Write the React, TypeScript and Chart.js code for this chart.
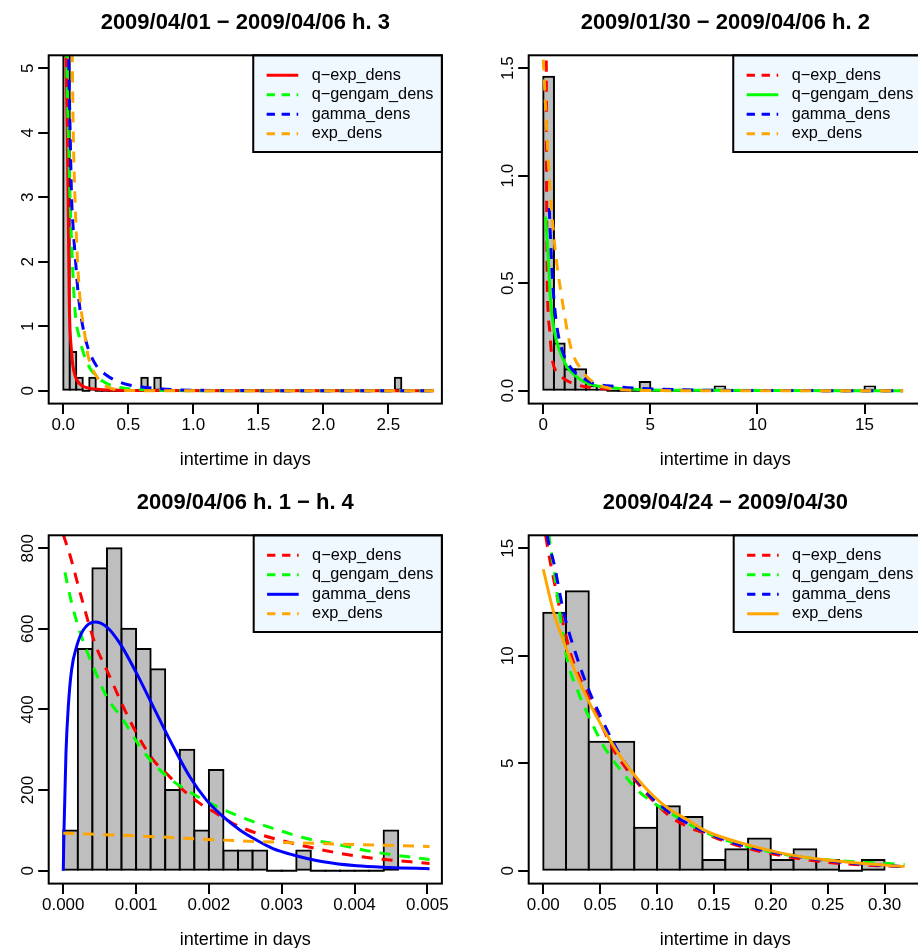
import React, { useEffect, useRef } from "react";
import { Chart, registerables } from "chart.js";

Chart.register(...registerables);

const FONT = "'Liberation Sans', Arial, Helvetica, sans-serif";
const RED = "#FF0000";
const GREEN = "#00FF00";
const BLUE = "#0000FF";
const ORANGE = "#FFA500";
const HIST_FILL = "#BEBEBE";
const LEGEND_BG = "#F0F8FF";
const DASH = [11, 9];
const LEGEND_DASH = [8.3, 6.7];
const X_LABEL = "intertime in days";

// ---------- Panel 1 ----------
const P1_TITLE = "2009/04/01 \u2212 2009/04/06 h. 3";
const P1_LEGEND = ["q\u2212exp_dens", "q\u2212gengam_dens", "gamma_dens", "exp_dens"];
const P1_SOLID = 0;
const P1_XLIM = [0, 2.8];
const P1_YLIM = [0, 5];
const P1_XTICKS = [0, 0.5, 1, 1.5, 2, 2.5];
const P1_XTICK_LABELS = ["0.0", "0.5", "1.0", "1.5", "2.0", "2.5"];
const P1_YTICKS = [0, 1, 2, 3, 4, 5];
const P1_YTICK_LABELS = ["0", "1", "2", "3", "4", "5"];
const P1_BREAK_START = 0;
const P1_BIN_WIDTH = 0.05;
const P1_DENSITY = [
  18.4, 0.6, 0.2, 0, 0.2, 0, 0, 0, 0, 0, 0, 0, 0.2, 0, 0.2,
  0, 0, 0, 0, 0, 0, 0, 0, 0, 0, 0, 0, 0, 0, 0, 0, 0, 0, 0, 0, 0,
  0, 0, 0, 0, 0, 0, 0, 0, 0, 0, 0, 0, 0, 0, 0, 0.2,
];
const P1_QEXP_X = [0.012, 0.021, 0.03, 0.037, 0.046, 0.051, 0.057, 0.064, 0.07, 0.077, 0.09, 0.103, 0.125, 0.154, 0.205, 0.282, 0.385, 0.5, 0.8, 1.5, 2.85];
const P1_QEXP_Y = [7.0, 5.2, 4.1, 3.0, 1.4, 1.0, 0.78, 0.6, 0.45, 0.35, 0.24, 0.17, 0.11, 0.065, 0.036, 0.02, 0.01, 0.005, 0.002, 0.0005, 0];
const P1_GENGAM_X = [0.015, 0.026, 0.039, 0.052, 0.07, 0.09, 0.128, 0.18, 0.244, 0.333, 0.436, 0.564, 0.75, 1.0, 2.85];
const P1_GENGAM_Y = [7.5, 5.2, 4.0, 3.0, 2.0, 1.25, 0.79, 0.45, 0.244, 0.115, 0.052, 0.02, 0.005, 0.001, 0];
const P1_GAMMA_X = [0.03, 0.04, 0.05, 0.064, 0.077, 0.095, 0.115, 0.141, 0.18, 0.244, 0.333, 0.46, 0.59, 0.74, 0.9, 1.2, 1.6, 2.85];
const P1_GAMMA_Y = [7.0, 5.3, 4.3, 3.0, 2.5, 2.0, 1.5, 1.1, 0.73, 0.42, 0.24, 0.114, 0.062, 0.03, 0.012, 0.003, 0.001, 0];
const P1_EXP_X = [0.06, 0.069, 0.077, 0.09, 0.11, 0.13, 0.16, 0.19, 0.22, 0.254, 0.3, 0.35, 0.404, 0.5, 0.7, 2.85];
const P1_EXP_Y = [6.5, 5.2, 4.0, 3.0, 2.0, 1.4, 0.95, 0.55, 0.36, 0.23, 0.11, 0.05, 0.018, 0.004, 0, 0];

// ---------- Panel 2 ----------
const P2_TITLE = "2009/01/30 \u2212 2009/04/06 h. 2";
const P2_LEGEND = ["q\u2212exp_dens", "q\u2212gengam_dens", "gamma_dens", "exp_dens"];
const P2_SOLID = 1;
const P2_XLIM = [0, 17];
const P2_YLIM = [0, 1.5];
const P2_XTICKS = [0, 5, 10, 15];
const P2_XTICK_LABELS = ["0", "5", "10", "15"];
const P2_YTICKS = [0, 0.5, 1, 1.5];
const P2_YTICK_LABELS = ["0.0", "0.5", "1.0", "1.5"];
const P2_BREAK_START = 0;
const P2_BIN_WIDTH = 0.5;
const P2_DENSITY = [
  1.46, 0.22, 0.1, 0.1, 0.02, 0.02, 0, 0, 0, 0.04, 0, 0, 0, 0, 0, 0,
  0.02, 0, 0, 0, 0, 0, 0, 0, 0, 0, 0, 0, 0, 0, 0.02,
];
const P2_QEXP_X = [0.13, 0.14, 0.15, 0.16, 0.18, 0.22, 0.3, 0.37, 0.45, 0.6, 0.96, 1.5, 2.05, 3.06, 5, 10, 16.8];
const P2_QEXP_Y = [2.0, 1.6, 1.2, 0.85, 0.55, 0.38, 0.28, 0.19, 0.13, 0.09, 0.056, 0.03, 0.017, 0.008, 0.003, 0.0008, 0];
const P2_GENGAM_X = [0.107, 0.22, 0.34, 0.51, 0.75, 1.06, 1.45, 2.07, 3.0, 4.4, 7, 16.8];
const P2_GENGAM_Y = [0.81, 0.64, 0.42, 0.28, 0.19, 0.12, 0.073, 0.034, 0.016, 0.006, 0.002, 0];
const P2_GAMMA_X = [0.28, 0.34, 0.43, 0.56, 0.7, 0.96, 1.38, 1.82, 2.29, 3.42, 5.2, 8, 16.8];
const P2_GAMMA_Y = [0.85, 0.7, 0.52, 0.36, 0.26, 0.166, 0.095, 0.06, 0.036, 0.019, 0.008, 0.002, 0];
const P2_EXP_X = [0, 0.27, 0.51, 0.9, 1.29, 1.76, 2.38, 3.0, 3.62, 5, 7, 16.8];
const P2_EXP_Y = [1.54, 1.01, 0.7, 0.41, 0.2, 0.1, 0.036, 0.014, 0.005, 0.001, 0, 0];

// ---------- Panel 3 ----------
const P3_TITLE = "2009/04/06 h. 1 \u2212 h. 4";
const P3_LEGEND = ["q\u2212exp_dens", "q_gengam_dens", "gamma_dens", "exp_dens"];
const P3_SOLID = 2;
const P3_XLIM = [0, 0.005];
const P3_YLIM = [0, 800];
const P3_XTICKS = [0, 0.001, 0.002, 0.003, 0.004, 0.005];
const P3_XTICK_LABELS = ["0.000", "0.001", "0.002", "0.003", "0.004", "0.005"];
const P3_YTICKS = [0, 200, 400, 600, 800];
const P3_YTICK_LABELS = ["0", "200", "400", "600", "800"];
const P3_BREAK_START = 0;
const P3_BIN_WIDTH = 0.0002;
const P3_DENSITY = [100, 550, 750, 800, 600, 550, 500, 200, 300, 100, 250, 50, 50, 50, 0, 0, 50, 0, 0, 0, 0, 0, 100];
const P3_QEXP_X = [0, 0.0000915, 0.000252, 0.000435, 0.00064, 0.000823, 0.001006, 0.001235, 0.001418, 0.001647, 0.001876, 0.002104, 0.002333, 0.002653, 0.002974, 0.00334, 0.0038, 0.00425, 0.00503];
const P3_QEXP_Y = [834, 783, 676, 564, 481, 407, 341, 275, 241, 200, 167, 142, 117, 93, 76, 60, 43, 31, 18];
const P3_GENGAM_X = [0.0000229, 0.000114, 0.000229, 0.000412, 0.000595, 0.000823, 0.001052, 0.001281, 0.00151, 0.001738, 0.001967, 0.002196, 0.002516, 0.00288, 0.00334, 0.0038, 0.00425, 0.00471, 0.00503];
const P3_GENGAM_Y = [740, 665, 592, 506, 432, 374, 308, 258, 222, 195, 172, 152, 128, 105, 80, 64, 47, 35, 28];
const P3_GAMMA_X = [0, 0.00001, 0.000037, 0.000069, 0.000114, 0.000183, 0.000275, 0.000435, 0.000595, 0.000778, 0.001006, 0.001235, 0.00151, 0.001738, 0.001967, 0.002196, 0.002425, 0.002653, 0.00288, 0.00316, 0.00357, 0.00403, 0.00448, 0.00503];
const P3_GAMMA_Y = [0, 100, 291, 407, 498, 556, 597, 617, 605, 564, 490, 407, 308, 233, 175, 134, 101, 76, 55, 39, 22, 12, 8, 5];
const P3_EXP_X = [0, 0.00105, 0.00243, 0.0038, 0.00503];
const P3_EXP_Y = [93, 86, 74, 66, 60];

// ---------- Panel 4 ----------
const P4_TITLE = "2009/04/24 \u2212 2009/04/30";
const P4_LEGEND = ["q\u2212exp_dens", "q_gengam_dens", "gamma_dens", "exp_dens"];
const P4_SOLID = 3;
const P4_XLIM = [0, 0.32];
const P4_YLIM = [0, 15];
const P4_XTICKS = [0, 0.05, 0.1, 0.15, 0.2, 0.25, 0.3];
const P4_XTICK_LABELS = ["0.00", "0.05", "0.10", "0.15", "0.20", "0.25", "0.30"];
const P4_YTICKS = [0, 5, 10, 15];
const P4_YTICK_LABELS = ["0", "5", "10", "15"];
const P4_BREAK_START = 0;
const P4_BIN_WIDTH = 0.02;
const P4_DENSITY = [12, 13, 6, 6, 2, 3, 2.5, 0.5, 1, 1.5, 0.5, 1, 0.5, 0, 0.5];
const P4_QEXP_X = [0, 0.002, 0.0094, 0.0167, 0.024, 0.033, 0.04, 0.0505, 0.062, 0.074, 0.0857, 0.0975, 0.112, 0.127, 0.1415, 0.156, 0.1855, 0.215, 0.244, 0.2736, 0.3176];
const P4_QEXP_Y = [16.5, 15.63, 13.5, 11.66, 10.1, 8.87, 8.1, 6.85, 5.6, 4.68, 3.9, 3.2, 2.5, 2.05, 1.74, 1.43, 0.96, 0.65, 0.42, 0.29, 0.19];
const P4_GENGAM_X = [0, 0.005, 0.0094, 0.0153, 0.0211, 0.03, 0.04, 0.0534, 0.068, 0.0828, 0.0975, 0.112, 0.127, 0.1415, 0.156, 0.1855, 0.215, 0.244, 0.2736, 0.3176];
const P4_GENGAM_Y = [18.5, 15.63, 14.0, 11.66, 9.8, 8.4, 7.17, 5.77, 4.68, 3.75, 3.13, 2.67, 2.2, 1.81, 1.5, 1.04, 0.73, 0.53, 0.42, 0.29];
const P4_GAMMA_X = [0, 0.0035, 0.0094, 0.018, 0.0285, 0.04, 0.0505, 0.062, 0.074, 0.0857, 0.0975, 0.112, 0.127, 0.156, 0.1855, 0.215, 0.244, 0.2736, 0.3176];
const P4_GAMMA_Y = [17.5, 15.63, 14.3, 12.0, 10.1, 8.4, 7.17, 5.92, 4.84, 3.99, 3.29, 2.67, 2.2, 1.5, 1.04, 0.73, 0.5, 0.34, 0.19];
const P4_EXP_X = [0, 0.0094, 0.0197, 0.03, 0.04, 0.0534, 0.068, 0.0813, 0.0975, 0.112, 0.127, 0.1415, 0.156, 0.1855, 0.215, 0.244, 0.2736, 0.3176];
const P4_EXP_Y = [14.02, 11.97, 10.42, 9.03, 7.86, 6.54, 5.3, 4.37, 3.44, 2.82, 2.36, 1.89, 1.58, 1.12, 0.76, 0.53, 0.37, 0.19];

const PANELS = [
  {
    title: P1_TITLE, legend: P1_LEGEND, solid: P1_SOLID, xlim: P1_XLIM, ylim: P1_YLIM,
    xTicks: P1_XTICKS, xTickLabels: P1_XTICK_LABELS, yTicks: P1_YTICKS, yTickLabels: P1_YTICK_LABELS,
    breakStart: P1_BREAK_START, binWidth: P1_BIN_WIDTH, density: P1_DENSITY,
    curves: [[P1_QEXP_X, P1_QEXP_Y], [P1_GENGAM_X, P1_GENGAM_Y], [P1_GAMMA_X, P1_GAMMA_Y], [P1_EXP_X, P1_EXP_Y]],
  },
  {
    title: P2_TITLE, legend: P2_LEGEND, solid: P2_SOLID, xlim: P2_XLIM, ylim: P2_YLIM,
    xTicks: P2_XTICKS, xTickLabels: P2_XTICK_LABELS, yTicks: P2_YTICKS, yTickLabels: P2_YTICK_LABELS,
    breakStart: P2_BREAK_START, binWidth: P2_BIN_WIDTH, density: P2_DENSITY,
    curves: [[P2_QEXP_X, P2_QEXP_Y], [P2_GENGAM_X, P2_GENGAM_Y], [P2_GAMMA_X, P2_GAMMA_Y], [P2_EXP_X, P2_EXP_Y]],
  },
  {
    title: P3_TITLE, legend: P3_LEGEND, solid: P3_SOLID, xlim: P3_XLIM, ylim: P3_YLIM,
    xTicks: P3_XTICKS, xTickLabels: P3_XTICK_LABELS, yTicks: P3_YTICKS, yTickLabels: P3_YTICK_LABELS,
    breakStart: P3_BREAK_START, binWidth: P3_BIN_WIDTH, density: P3_DENSITY,
    curves: [[P3_QEXP_X, P3_QEXP_Y], [P3_GENGAM_X, P3_GENGAM_Y], [P3_GAMMA_X, P3_GAMMA_Y], [P3_EXP_X, P3_EXP_Y]],
  },
  {
    title: P4_TITLE, legend: P4_LEGEND, solid: P4_SOLID, xlim: P4_XLIM, ylim: P4_YLIM,
    xTicks: P4_XTICKS, xTickLabels: P4_XTICK_LABELS, yTicks: P4_YTICKS, yTickLabels: P4_YTICK_LABELS,
    breakStart: P4_BREAK_START, binWidth: P4_BIN_WIDTH, density: P4_DENSITY,
    curves: [[P4_QEXP_X, P4_QEXP_Y], [P4_GENGAM_X, P4_GENGAM_Y], [P4_GAMMA_X, P4_GAMMA_Y], [P4_EXP_X, P4_EXP_Y]],
  },
];

const CURVE_COLORS = [RED, GREEN, BLUE, ORANGE];

// layout (pixels within one 480x480 panel)
const CANVAS = 480;
const Y_AXIS_W = 48.7;
const PAD_RIGHT = 38.1;
const PAD_BOTTOM = 9.4;
const X_AXIS_H = 67.0;
const TITLE_SIZE = 22;
const TITLE_PAD_TOP = 10.2;
const TITLE_PAD_BOTTOM = 18.7;
const TICK_SIZE = 17;
const LABEL_SIZE = 18;
const LEGEND_SIZE = 16.3;
const TICK_LEN = 10.5;

function rPlotPlugin(p: any) {
  return {
    id: "rPlot",
    afterDatasetDraw(chart: any, args: any) {
      if (args.index !== 0) return;
      const ctx = chart.ctx;
      const ca = chart.chartArea;
      ctx.save();
      ctx.beginPath();
      ctx.rect(ca.left, ca.top, ca.right - ca.left, ca.bottom - ca.top);
      ctx.clip();
      ctx.strokeStyle = "#000";
      ctx.lineWidth = 2;
      const data = chart.data.datasets[0].data;
      args.meta.data.forEach((el: any, i: number) => {
        if (data[i].y === 0) {
          ctx.beginPath();
          ctx.moveTo(el.x - el.width / 2 - 1, el.y);
          ctx.lineTo(el.x + el.width / 2 + 1, el.y);
          ctx.stroke();
        }
      });
      ctx.restore();
    },
    afterDatasetsDraw(chart: any) {
      const ctx = chart.ctx;
      const ca = chart.chartArea;
      const lines = chart.data.datasets.slice(1);
      ctx.save();
      ctx.font = `${LEGEND_SIZE}px ${FONT}`;
      const maxW = Math.max(...lines.map((d: any) => ctx.measureText(d.label).width));
      const w = 58.4 + maxW + 8.5;
      const h = 96.7;
      const left = ca.right - w;
      const top = ca.top;
      ctx.fillStyle = LEGEND_BG;
      ctx.fillRect(left, top, w, h);
      ctx.strokeStyle = "#000";
      ctx.lineWidth = 2;
      ctx.strokeRect(left, top, w, h);
      lines.forEach((d: any, i: number) => {
        const y = top + 20 + i * 19.5;
        ctx.beginPath();
        ctx.setLineDash(d.borderDash && d.borderDash.length ? LEGEND_DASH : []);
        ctx.lineCap = "butt";
        ctx.strokeStyle = d.borderColor;
        ctx.lineWidth = 3;
        ctx.moveTo(left + 13.4, y);
        ctx.lineTo(left + 45, y);
        ctx.stroke();
        ctx.setLineDash([]);
        ctx.fillStyle = "#000";
        ctx.textAlign = "left";
        ctx.textBaseline = "middle";
        ctx.fillText(d.label, left + 58.4, y);
      });
      ctx.restore();
    },
    afterDraw(chart: any) {
      const ctx = chart.ctx;
      const ca = chart.chartArea;
      ctx.save();
      ctx.strokeStyle = "#000";
      ctx.lineWidth = 2;
      ctx.strokeRect(ca.left, ca.top, ca.right - ca.left, ca.bottom - ca.top);
      ctx.fillStyle = "#000";
      ctx.font = `${TICK_SIZE}px ${FONT}`;
      ctx.textAlign = "center";
      ctx.textBaseline = "alphabetic";
      const ys = chart.scales.y;
      p.yTicks.forEach((v: number, i: number) => {
        const y = ys.getPixelForValue(v);
        ctx.save();
        ctx.translate(ca.left - 15.4, y);
        ctx.rotate(-Math.PI / 2);
        ctx.fillText(p.yTickLabels[i], 0, 0);
        ctx.restore();
      });
      ctx.restore();
    },
  };
}

function buildConfig(p: any) {
  const xr = p.xlim[1] - p.xlim[0];
  const yr = p.ylim[1] - p.ylim[0];
  const bars = p.density.map((d: number, i: number) => ({
    x: p.breakStart + (i + 0.5) * p.binWidth,
    y: d,
  }));
  const datasets: any[] = [
    {
      type: "bar",
      label: "hist",
      data: bars,
      backgroundColor: HIST_FILL,
      borderColor: "#000",
      borderWidth: 2,
      borderSkipped: false,
      inflateAmount: 1,
      barPercentage: 1,
      categoryPercentage: 1,
      order: 10,
      clip: 0,
    },
  ];
  p.curves.forEach((c: any, i: number) => {
    datasets.push({
      type: "line",
      label: p.legend[i],
      data: c[0].map((x: number, j: number) => ({ x, y: c[1][j] })),
      borderColor: CURVE_COLORS[i],
      borderWidth: 3,
      borderDash: i === p.solid ? [] : DASH,
      borderCapStyle: "butt",
      borderJoinStyle: "round",
      pointRadius: 0,
      fill: false,
      cubicInterpolationMode: "monotone",
      order: 4 - i,
      clip: 0,
    });
  });

  const gridOpts = {
    display: true,
    offset: false,
    drawOnChartArea: false,
    drawTicks: true,
    tickLength: TICK_LEN,
    color: "#000",
    lineWidth: 2,
  };

  return {
    type: "bar",
    data: { datasets },
    options: {
      responsive: false,
      animation: false,
      devicePixelRatio: 1,
      events: [],
      layout: { padding: { left: 0, right: PAD_RIGHT, top: 0, bottom: PAD_BOTTOM } },
      plugins: {
        legend: { display: false },
        tooltip: { enabled: false },
        title: {
          display: true,
          text: p.title,
          fullSize: false,
          color: "#000",
          font: { family: FONT, size: TITLE_SIZE, weight: "bold" },
          padding: { top: TITLE_PAD_TOP, bottom: TITLE_PAD_BOTTOM },
        },
      },
      scales: {
        x: {
          type: "linear",
          min: p.xlim[0] - 0.04 * xr,
          max: p.xlim[1] + 0.04 * xr,
          offset: false,
          afterBuildTicks: (axis: any) => {
            axis.ticks = p.xTicks.map((v: number) => ({ value: v }));
          },
          afterFit: (axis: any) => {
            axis.height = X_AXIS_H;
          },
          ticks: {
            autoSkip: false,
            maxRotation: 0,
            minRotation: 0,
            padding: 1.5,
            color: "#000",
            font: { family: FONT, size: TICK_SIZE },
            callback: (v: number) => {
              const k = p.xTicks.indexOf(v);
              return k >= 0 ? p.xTickLabels[k] : "";
            },
          },
          grid: gridOpts,
          border: { display: false },
          title: {
            display: true,
            text: X_LABEL,
            color: "#000",
            font: { family: FONT, size: LABEL_SIZE },
            padding: 0,
          },
        },
        y: {
          type: "linear",
          min: p.ylim[0] - 0.04 * yr,
          max: p.ylim[1] + 0.04 * yr,
          afterBuildTicks: (axis: any) => {
            axis.ticks = p.yTicks.map((v: number) => ({ value: v }));
          },
          afterFit: (axis: any) => {
            axis.width = Y_AXIS_W;
          },
          ticks: { display: false },
          grid: gridOpts,
          border: { display: false },
        },
      },
    },
    plugins: [rPlotPlugin(p)],
  };
}

function Panel({ panel, left, top }: any) {
  const ref = useRef<HTMLCanvasElement>(null);
  useEffect(() => {
    const chart = new Chart(ref.current as HTMLCanvasElement, buildConfig(panel) as any);
    return () => chart.destroy();
  }, [panel]);
  return (
    <canvas
      ref={ref}
      width={CANVAS}
      height={CANVAS}
      style={{ position: "absolute", left, top, width: CANVAS, height: CANVAS }}
    />
  );
}

export default function App() {
  return (
    <div
      style={{
        position: "fixed",
        left: 0,
        top: 0,
        width: 918,
        height: 948,
        overflow: "hidden",
        background: "#ffffff",
      }}
    >
      <Panel panel={PANELS[0]} left={0} top={0} />
      <Panel panel={PANELS[1]} left={480} top={0} />
      <Panel panel={PANELS[2]} left={0} top={480} />
      <Panel panel={PANELS[3]} left={480} top={480} />
    </div>
  );
}
